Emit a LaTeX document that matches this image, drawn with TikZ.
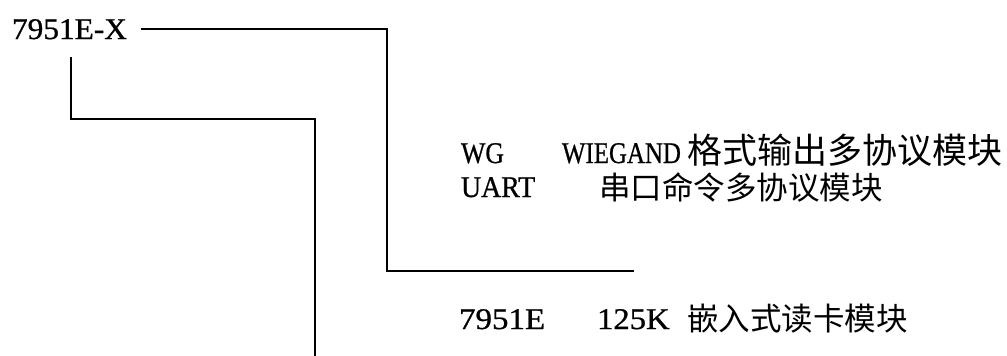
\documentclass[tikz,border=0pt]{standalone}
\usepackage{fontspec}
\setmainfont{Liberation Serif}[FakeBold=0.8]
\newfontfamily\cjk{Noto Sans CJK SC}
\newcommand{\lat}[2]{\scalebox{#1}[1]{#2}}
\tikzset{
  lbl/.style={anchor=base west, inner sep=0pt, outer sep=0pt, font=\fontsize{30}{36}\selectfont, text=black},
  zh/.style={anchor=base west, inner sep=0pt, outer sep=0pt, font=\cjk\fontsize{31.5}{38}\selectfont, text=black},
  zhbig/.style={zh, font=\cjk\fontsize{35}{42}\selectfont},
  wire/.style={draw=black, line width=1.5pt}
}
\begin{document}
\begin{tikzpicture}[x=1pt, y=-1pt]
\useasboundingbox (0,0) rectangle (1007,356);
% top code
\node[lbl] (code) at (12,39) {\lat{1.045}{7951E-X}};
% type rows
\node[lbl] (wg) at (461,163) {\lat{0.86}{WG}};
\node[lbl] (wiegand) at (562,163) {\lat{0.83}{WIEGAND}};
\node[zhbig] (wgzh) at (687,163) {格式输出多协议模块};
\node[lbl] (uart) at (461,197) {\lat{0.93}{UART}};
\node[zh] (uartzh) at (599,199) {串口命令多协议模块};
% base module row
\node[lbl] (base) at (459,329) {\lat{1.1}{7951E}};
\node[lbl] (k125) at (597,329) {\lat{1.09}{125K}};
\node[zh] (basezh) at (687,330) {嵌入式读卡模块};
% bracket coordinates
\coordinate (a0) at (141,29);
\coordinate (a1) at (387,29);
\coordinate (a2) at (387,271);
\coordinate (a3) at (634,271);
\coordinate (b0) at (71,57);
\coordinate (b1) at (71,119);
\coordinate (b2) at (315,119);
\coordinate (b3) at (315,356);
\draw[wire] (a0) -- (a1) -- (a2) -- (a3);
\draw[wire] (b0) -- (b1) -- (b2) -- (b3);
\end{tikzpicture}
\end{document}
